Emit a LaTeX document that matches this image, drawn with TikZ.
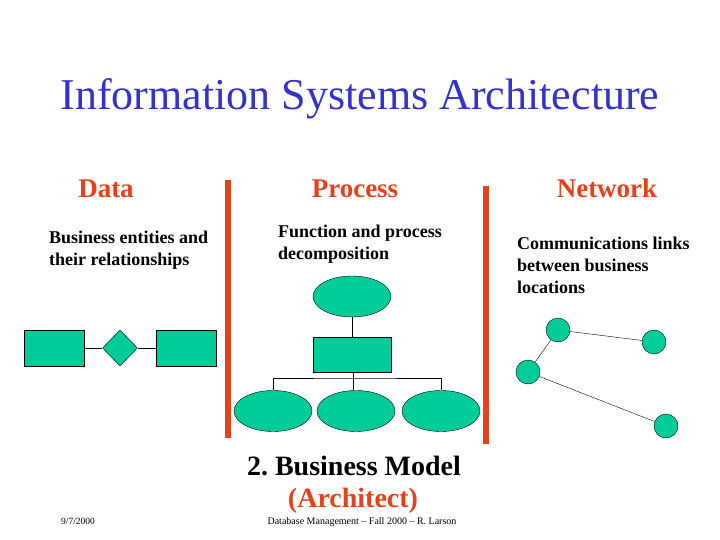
\documentclass[tikz,border=0pt]{standalone}
\usepackage{fontspec}
\setmainfont{Liberation Serif}
\usepackage{tikz}
\usetikzlibrary{shapes,arrows,positioning,calc}
\definecolor{shapegreen}{RGB}{0,204,153}
\definecolor{headred}{RGB}{232,65,24}
\definecolor{titleblue}{RGB}{51,51,204}
\tikzstyle{entity} = [rectangle, draw, fill=shapegreen, minimum width=60pt, minimum height=36pt, inner sep=0pt]
\tikzstyle{relation} = [diamond, draw, fill=shapegreen, minimum width=35pt, minimum height=36pt, inner sep=0pt]
\tikzstyle{func} = [ellipse, draw, fill=shapegreen, minimum width=78pt, minimum height=41pt, inner sep=0pt]
\tikzstyle{procbox} = [rectangle, draw, fill=shapegreen, minimum width=78pt, minimum height=35pt, inner sep=0pt]
\tikzstyle{site} = [circle, draw, fill=shapegreen, minimum size=24pt, inner sep=0pt]
\tikzstyle{heading} = [text=headred, font=\fontsize{27}{30}\selectfont\bfseries, anchor=base, inner sep=0pt]
\tikzstyle{desc} = [font=\fontsize{18}{22}\selectfont\bfseries, align=left, anchor=north west, inner sep=0pt]
\tikzstyle{bar} = [draw=headred, line width=6pt]
\tikzstyle{link} = [thin]

\begin{document}
\begin{tikzpicture}[x=1pt, y=-1pt]
    \useasboundingbox (0,0) rectangle (720,540);
    % title and headings
    \node[text=titleblue, font=\fontsize{44}{48}\selectfont, anchor=base, inner sep=0pt] (title) at (360,110) {Information Systems Architecture};
    \node[heading] (hdata) at (106,198) {Data};
    \node[heading] (hproc) at (355,198) {Process};
    \node[heading] (hnet) at (607,198) {Network};
    \node[desc] (ddata) at (49,231) {Business entities and\\their relationships};
    \node[desc] (dproc) at (278,225) {Function and process\\decomposition};
    \node[desc] (dnet) at (517,237) {Communications links\\between business\\locations};
    % separators
    \coordinate (b1top) at (228,180); \coordinate (b1bot) at (228,438);
    \coordinate (b2top) at (486,186); \coordinate (b2bot) at (486,444);
    \draw[bar] (b1top) -- (b1bot);
    \draw[bar] (b2top) -- (b2bot);
    % data
    \node[entity] (e1) at (54,348) {};
    \node[relation] (rel) at (120,348) {};
    \node[entity] (e2) at (186,348) {};
    \draw[link] (e1) -- (rel); \draw[link] (rel) -- (e2);
    % process
    \node[func] (top) at (352,296.5) {};
    \node[procbox] (box) at (352,354.5) {};
    \node[func] (f1) at (273,411) {};
    \node[func] (f2) at (356,411) {};
    \node[func] (f3) at (441,411) {};
    \coordinate (split) at (353,378);
    \draw[link] (top) -- (box);
    \draw[link] (box.south -| split) -- (split);
    \draw[link] (f1.north) |- (split) -| (f3.north);
    \draw[link] (split) -- (split |- f2.north);
    % network
    \node[site] (s1) at (558,330) {};
    \node[site] (s2) at (654,342) {};
    \node[site] (s3) at (528,372) {};
    \node[site] (s4) at (666,426) {};
    \draw[link] (s1) -- (s2); \draw[link] (s1) -- (s3);
    \draw[link] (s3) -- (s4);
    % caption
    \node[font=\fontsize{28}{32}\selectfont\bfseries, anchor=base, inner sep=0pt] (cap1) at (354,475) {2.\ Business Model};
    \node[heading, font=\fontsize{28}{32}\selectfont\bfseries] (cap2) at (353,507) {(Architect)};
    \node[font=\fontsize{9.5}{11}\selectfont, anchor=base, inner sep=0pt] (date) at (78,524) {9/7/2000};
    \node[font=\fontsize{10}{12}\selectfont, anchor=base, inner sep=0pt] (foot) at (362,524) {Database Management -- Fall 2000 -- R. Larson};
\end{tikzpicture}
\end{document}
